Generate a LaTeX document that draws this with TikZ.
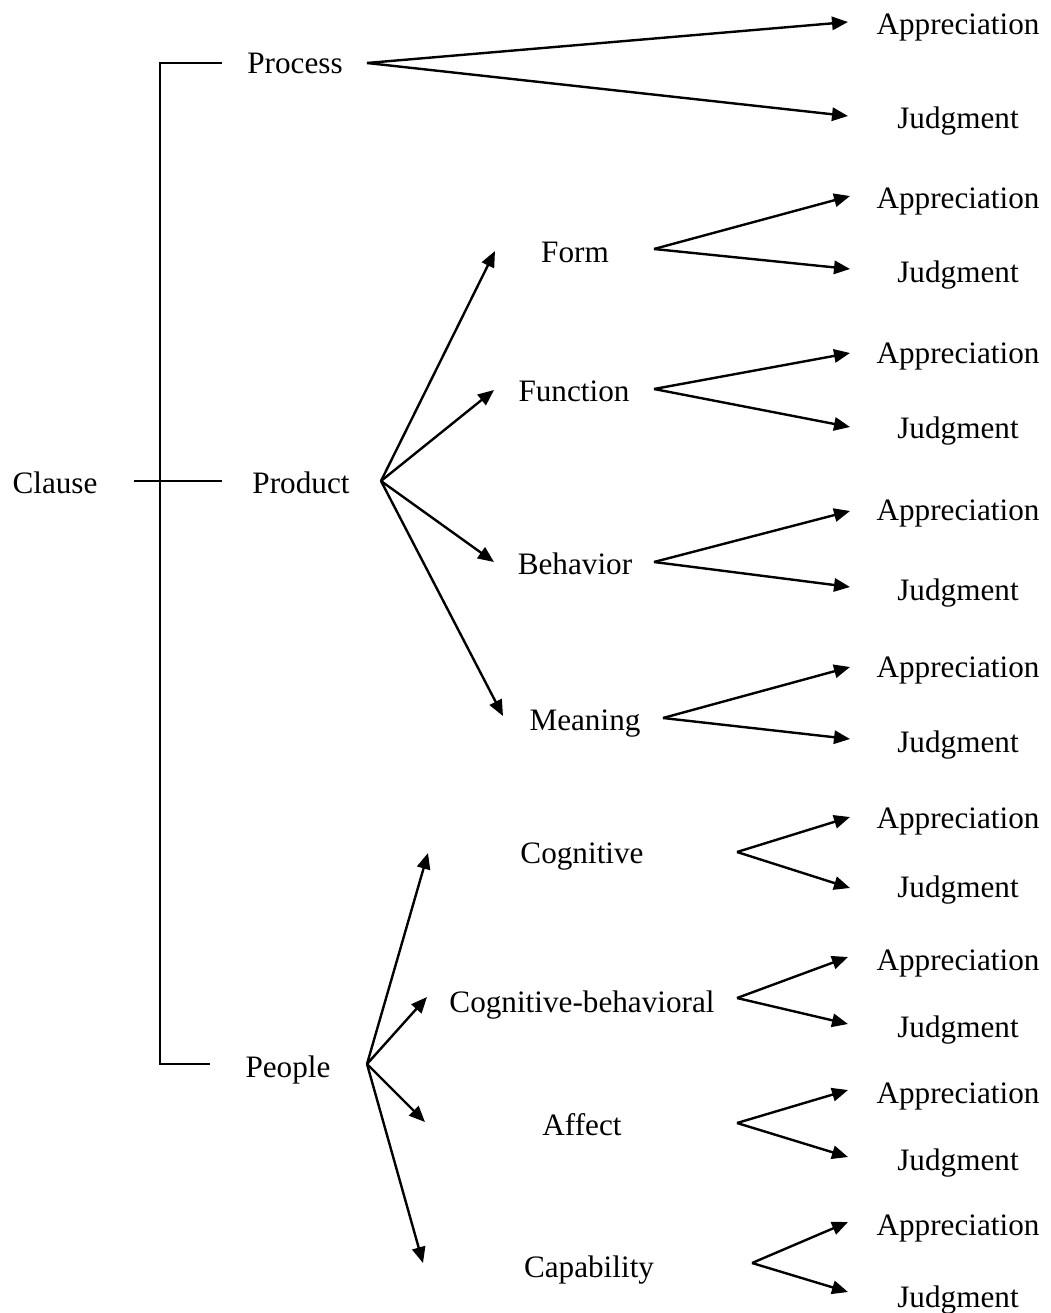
\documentclass[tikz,border=0pt]{standalone}
\usepackage{fontspec}
\setmainfont{Liberation Serif}
\usetikzlibrary{arrows.meta}
\begin{document}
\begin{tikzpicture}[x=0.75pt,y=-0.75pt,
  lbl/.style={font=\fontsize{23.4}{28}\selectfont, inner sep=0pt, anchor=base},
  arr/.style={line width=1.8pt, -{Triangle[length=12pt,width=10pt]}},
  brk/.style={line width=1.2pt}]
\useasboundingbox (0,0) rectangle (1050,1313);

% top level
\node[lbl] (clause)  at (55,493)  {Clause};
\node[lbl] (process) at (295,74)  {Process};
\node[lbl] (product) at (301,493) {Product};
\node[lbl] (people)  at (288,1077) {People};

% bracket
\coordinate (bTopR) at (222,63);
\coordinate (bTopL) at (160,63);
\coordinate (bBotL) at (160,1064);
\coordinate (bBotR) at (210,1064);
\coordinate (bMidL) at (134,481);
\coordinate (bMidR) at (222,481);
\draw[brk] (bTopR) -- (bTopL) -- (bBotL) -- (bBotR);
\draw[brk] (bMidL) -- (bMidR);

% second level
\node[lbl] (form)       at (575,262)  {Form};
\node[lbl] (function)   at (574,401)  {Function};
\node[lbl] (behavior)   at (575,574)  {Behavior};
\node[lbl] (meaning)    at (585,730)  {Meaning};
\node[lbl] (cognitive)  at (582,863)  {Cognitive};
\node[lbl] (cogbeh)     at (582,1012) {Cognitive-behavioral};
\node[lbl] (affect)     at (582,1135) {Affect};
\node[lbl] (capability) at (589,1277) {Capability};

% product fan
\coordinate (oProduct) at (381,481);
\coordinate (tForm) at (495,251);
\coordinate (tFunction) at (494,390);
\coordinate (tBehavior) at (494,562);
\coordinate (tMeaning) at (503,716);
\foreach \t in {tForm,tFunction,tBehavior,tMeaning}
  \draw[arr] (oProduct) -- (\t);

% people fan
\coordinate (oPeople) at (367,1064);
\coordinate (tCognitive) at (428,853);
\coordinate (tCogbeh) at (427,997);
\coordinate (tAffect) at (425,1122);
\coordinate (tCapability) at (423,1263);
\foreach \t in {tCognitive,tCogbeh,tAffect,tCapability}
  \draw[arr] (oPeople) -- (\t);

% leaves: name / origin x / origin y / tip x / tip A y / tip J y / base A / base J
\foreach \n/\ox/\oy/\tx/\ta/\tj/\ba/\bj in {
  process/367/63/848/22/116/35/128,
  form/654/249/850/196/269/208/282,
  function/654/389/850/353/427/363/438,
  behavior/654/562/850/511/587/520/600,
  meaning/663/718/850/667/739/677/752,
  cognitive/737/852/850/817/888/828/897,
  cogbeh/737/998/848/957/1024/970/1037,
  affect/737/1123/848/1090/1157/1103/1170,
  capability/752/1263/848/1222/1292/1235/1307}{
  \node[lbl] (a\n) at (958,\ba) {Appreciation};
  \node[lbl] (j\n) at (958,\bj) {Judgment};
  \coordinate (o\n) at (\ox,\oy);
  \coordinate (ta\n) at (\tx,\ta);
  \coordinate (tj\n) at (\tx,\tj);
  \draw[arr] (o\n) -- (ta\n);
  \draw[arr] (o\n) -- (tj\n);
}
\end{tikzpicture}
\end{document}
